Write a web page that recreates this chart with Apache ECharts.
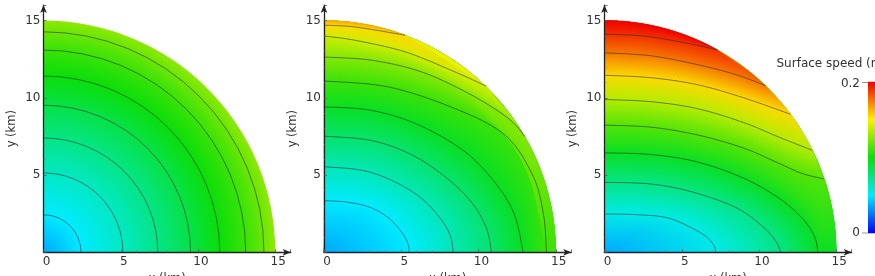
<!DOCTYPE html>
<html><head><meta charset="utf-8">
<script src="https://cdn.jsdelivr.net/npm/echarts@6/dist/echarts.min.js"></script>
<style>html,body{margin:0;padding:0;background:#fff}#c{width:875px;height:276px}</style>
</head><body><div id="c"></div>
<script>
// ---------- data (km, surface speed) ----------
const axisTicks = [0, 5, 10, 15];
const speedMin = 0, speedMax = 0.2;
const colorbarLabels = ['0.2', '0'];
const colorbarTitle = 'Surface speed (m/a)';
const discRadius = 15;

// Panel 1: circular contours (radius in km) and their speed levels
const p1Radii  = [2.43, 5.14, 7.4, 9.52, 11.41, 13.09, 14.27];
const p1Levels = [0.05, 0.0625, 0.075, 0.0875, 0.1, 0.11, 0.12];
const p1Center = 0.036, p1Rim = 0.127;

// Panel 2: contour polylines [x, y] in km, speed levels
const p2Contours = [
  [[0,3.34],[1.5,3.25],[3,2.9],[4.2,2.2],[5.1,1.2],[5.45,0.5],[5.52,0]],
  [[0,5.54],[2.5,5.3],[4.5,4.6],[6.3,3.5],[7.6,2.1],[8.2,1.0],[8.36,0]],
  [[0,7.52],[3,7.25],[5.5,6.4],[7.7,5.0],[9.5,3.3],[10.5,1.6],[10.84,0]],
  [[0,9.41],[3,9.2],[6,8.3],[9,6.6],[11,4.6],[12.3,2.5],[12.89,0]],
  [[0,11.09],[4.18,10.7],[8.49,9.3],[11.72,7.58],[13.5,5],[14.2,2.5],[14.4,0]],
  [[0,12.64],[3.1,12.43],[6.33,11.67],[9.57,10.17],[11.94,8.66],[13.0,7.5]],
  [[0,14.0],[2.02,13.72],[5.26,12.97],[8.49,11.67],[10.5,10.75]],
  [[0,14.7],[2.03,14.58],[5.25,14.05]]
];
const p2Levels = [0.05, 0.065, 0.08, 0.095, 0.11, 0.125, 0.14, 0.155];
const p2Center = 0.036, p2RimTop = 0.165;

// Panel 3: contour polylines [x, y] in km, speed levels
const p3Contours = [
  [[0,2.48],[2,2.44],[4,2.25],[5.5,1.65],[6.6,1.0],[7.1,0.4],[7.2,0]],
  [[0,4.53],[3,4.42],[5.7,3.9],[8.5,2.9],[10.2,1.7],[11.1,0.7],[11.4,0]],
  [[0,6.44],[3,6.33],[6,5.85],[9,4.8],[11.3,3.5],[12.8,2.2],[13.6,1.0],[13.81,0]],
  [[0,8.23],[3,8.1],[6,7.6],[9,6.75],[11.3,5.75],[12.8,5.1],[14.2,4.75]],
  [[0,9.89],[3,9.75],[6,9.3],[9,8.4],[11.3,7.45],[13.45,6.6]],
  [[0,11.46],[3,11.3],[6,10.85],[9,10.0],[12.05,8.93]],
  [[0,12.91],[3,12.72],[6,12.15],[8.5,11.5],[10.42,10.79]],
  [[0,14.12],[2.5,14.0],[5,13.6],[7.3,13.1]]
];
const p3Levels = [0.055, 0.075, 0.095, 0.115, 0.135, 0.155, 0.175, 0.19];
const p3Center = 0.036, p3RimTop = 0.2;

// ---------- rendering ----------
const FONT = 'DejaVu Sans';
const FS = 12;
const TXT = '#333';
const gridLefts = [43.5, 324, 604.5];
const PXKM = 15.45, AXMAX = 16, AXIS_Y = 252.3;
const gridSize = AXMAX * PXKM;
const gridTop = AXIS_Y - gridSize;

const cstops = [[0,[0,0,255]],[0.25,[0,235,255]],[0.5,[10,222,10]],[0.75,[252,242,0]],[1,[240,0,0]]];
function cmap(v){
  let f = (v - speedMin) / (speedMax - speedMin);
  f = Math.max(0, Math.min(1, f));
  for (let i = 0; i < cstops.length - 1; i++) {
    const a = cstops[i], b = cstops[i+1];
    if (f <= b[0]) {
      const t = (f - a[0]) / (b[0] - a[0]);
      const c = a[1].map((x, j) => Math.round(x + (b[1][j] - x) * t));
      return 'rgb(' + c.join(',') + ')';
    }
  }
  return 'rgb(240,0,0)';
}

function spline(pts, n){
  if (pts.length < 3) return pts.slice();
  const out = [];
  for (let i = 0; i < pts.length - 1; i++) {
    const p0 = pts[Math.max(i-1,0)], p1 = pts[i], p2 = pts[i+1], p3 = pts[Math.min(i+2, pts.length-1)];
    for (let s = 0; s < n; s++) {
      const t = s / n, t2 = t*t, t3 = t2*t;
      const f = k => 0.5*((2*p1[k]) + (-p0[k]+p2[k])*t + (2*p0[k]-5*p1[k]+4*p2[k]-p3[k])*t2 + (-p0[k]+3*p1[k]-3*p2[k]+p3[k])*t3);
      out.push([f(0), f(1)]);
    }
  }
  out.push(pts[pts.length-1]);
  return out;
}

function resample(pts, N){
  const L = [0];
  for (let i = 1; i < pts.length; i++) L.push(L[i-1] + Math.hypot(pts[i][0]-pts[i-1][0], pts[i][1]-pts[i-1][1]));
  const tot = L[L.length-1], out = [];
  let j = 0;
  for (let s = 0; s <= N; s++) {
    const d = tot * s / N;
    while (j < pts.length - 2 && L[j+1] < d) j++;
    const seg = L[j+1] - L[j], t = seg > 0 ? Math.min(1, (d - L[j]) / seg) : 0;
    out.push([pts[j][0] + (pts[j+1][0]-pts[j][0]) * t, pts[j][1] + (pts[j+1][1]-pts[j][1]) * t]);
  }
  return out;
}

const LINE_STYLE = {stroke: 'rgba(40,40,40,0.7)', lineWidth: 0.8, fill: null};

function renderCircular(params, api){
  const o = api.coord([0, 0]);
  const R = api.size([discRadius, 0])[0];
  const stops = [{offset: 0, color: cmap(p1Center)}];
  p1Radii.forEach((r, i) => stops.push({offset: r / discRadius, color: cmap(p1Levels[i])}));
  stops.push({offset: 1, color: cmap(p1Rim)});
  const children = [{
    type: 'sector',
    shape: {cx: o[0], cy: o[1], r0: 0, r: R, startAngle: -Math.PI/2, endAngle: 0, clockwise: true},
    style: {fill: new echarts.graphic.RadialGradient(o[0], o[1], R, stops, true)}
  }];
  p1Radii.forEach(r => {
    children.push({
      type: 'arc',
      shape: {cx: o[0], cy: o[1], r: api.size([r, 0])[0], startAngle: -Math.PI/2, endAngle: 0, clockwise: true},
      style: Object.assign({}, LINE_STYLE)
    });
  });
  return {type: 'group', children};
}

function gradPoly(points, P, Q, ca, cb){
  const g = new echarts.graphic.LinearGradient(P[0], P[1], Q[0], Q[1], [{offset: 0, color: ca}, {offset: 1, color: cb}], true);
  return {type: 'polygon', shape: {points: points}, style: {fill: g, stroke: g, lineWidth: 0.7}};
}
function quad(A0, A1, B1, B0, ca, cb){
  const P = [(A0[0]+A1[0])/2, (A0[1]+A1[1])/2], Q = [(B0[0]+B1[0])/2, (B0[1]+B1[1])/2];
  return gradPoly([A0, A1, B1, B0], P, Q, ca, cb);
}

function makeBandRender(contours, levels, center, rimTop){
  return function(params, api){
    const o = api.coord([0, 0]);
    const R = api.size([discRadius, 0])[0];
    const rimPt = a => [o[0] + R * Math.cos(a), o[1] - R * Math.sin(a)];
    const children = [{
      type: 'sector',
      shape: {cx: o[0], cy: o[1], r0: 0, r: R, startAngle: -Math.PI/2, endAngle: 0, clockwise: true},
      style: {fill: cmap((center + levels[0]) / 2)}
    }];
    const curves = contours.map(c => spline(c.map(p => api.coord(p)), 10));
    const endAngles = contours.map(c => {
      const last = c[c.length - 1];
      return last[1] < 0.01 ? 0 : Math.atan2(last[1], last[0]);
    });
    // underlay: flat regions above each contour (covers slivers at the rim)
    contours.forEach((c, k) => {
      const poly = curves[k].slice();
      const th0 = endAngles[k], steps = 60;
      for (let s = 0; s <= steps; s++) poly.push(rimPt(th0 + (Math.PI/2 - th0) * s / steps));
      const hi = k < levels.length - 1 ? levels[k+1] : rimTop;
      children.push({type: 'polygon', shape: {points: poly}, style: {fill: cmap(levels[k] + (hi - levels[k]) * 0.4)}});
    });
    // smooth shading between successive contours
    const N = 48;
    const rs = curves.map(c => resample(c, N));
    const bands = [];
    bands.push([Array.from({length: N + 1}, () => o), center, rs[0], levels[0]]);
    for (let k = 0; k < rs.length - 1; k++) bands.push([rs[k], levels[k], rs[k+1], levels[k+1]]);
    const thL = endAngles[endAngles.length - 1];
    const rim = [];
    for (let s = 0; s <= N; s++) rim.push(rimPt(Math.PI/2 - (Math.PI/2 - thL) * s / N));
    bands.push([rs[rs.length - 1], levels[levels.length - 1], rim, rimTop]);
    bands.forEach(b => {
      const A = b[0], B = b[2], ca = cmap(b[1]), cb = cmap(b[3]);
      for (let j = 0; j < N; j++) children.push(quad(A[j], A[j+1], B[j+1], B[j], ca, cb));
    });
    // rim sliver between the last contour ending on the x axis and the first one ending on the rim
    for (let k = 0; k < contours.length - 1; k++) {
      if (endAngles[k] === 0 && endAngles[k+1] > 0) {
        const Aend = rs[k][N], Bend = rs[k+1][N];
        const pts = [Aend];
        for (let s = 0; s <= 30; s++) pts.push(rimPt(endAngles[k+1] * s / 30));
        pts.push(Bend);
        children.push(gradPoly(pts, Aend, Bend, cmap(levels[k]), cmap(levels[k+1])));
      }
    }
    curves.forEach(pts => children.push({type: 'polyline', shape: {points: pts}, style: Object.assign({}, LINE_STYLE)}));
    return {type: 'group', children};
  };
}

const txt = {fontFamily: FONT, fontSize: FS, color: TXT};
const nameTxt = {fontFamily: FONT, fontSize: 11.5, color: TXT};
const grids = [], xAxes = [], yAxes = [];
for (let i = 0; i < 3; i++) {
  grids.push({left: gridLefts[i], top: gridTop, width: gridSize, height: gridSize, containLabel: false, outerBoundsMode: 'none'});
  const common = {
    type: 'value', gridIndex: i, min: 0, max: AXMAX, interval: 5, z: 5,
    axisLine: {show: true, onZero: false, symbol: ['none', 'arrow'], symbolSize: [5, 8], lineStyle: {color: '#222', width: 1.3}},
    axisTick: {show: true, inside: true, length: 3, lineStyle: {color: '#555', width: 0.8}},
    minorTick: {show: true, splitNumber: 5, length: 2, lineStyle: {color: '#777', width: 0.6}},
    splitLine: {show: false},
    nameLocation: 'middle',
    nameTextStyle: Object.assign({}, nameTxt)
  };
  xAxes.push(Object.assign({}, common, {
    name: 'x (km)', nameGap: 18,
    axisLabel: Object.assign({margin: 4, padding: [0,0,0,6], showMaxLabel: false,
      formatter: v => axisTicks.indexOf(v) >= 0 ? String(v) : ''}, txt)
  }));
  yAxes.push(Object.assign({}, common, {
    name: 'y (km)', nameGap: 25,
    axisLabel: Object.assign({margin: 3, showMinLabel: false, showMaxLabel: false,
      formatter: v => (v > 0 && axisTicks.indexOf(v) >= 0) ? String(v) : ''}, txt)
  }));
}

const series = [
  {type: 'custom', xAxisIndex: 0, yAxisIndex: 0, data: [[0, 0]], renderItem: renderCircular, clip: false, silent: true, z: 1},
  {type: 'custom', xAxisIndex: 1, yAxisIndex: 1, data: [[0, 0]], renderItem: makeBandRender(p2Contours, p2Levels, p2Center, p2RimTop), clip: false, silent: true, z: 1},
  {type: 'custom', xAxisIndex: 2, yAxisIndex: 2, data: [[0, 0]], renderItem: makeBandRender(p3Contours, p3Levels, p3Center, p3RimTop), clip: false, silent: true, z: 1}
];

const cbX = 868, cbTop = 81.7, cbH = 151.6;
const graphic = [
  {type: 'rect', left: cbX, top: cbTop, shape: {width: 30, height: cbH}, z: 10,
   style: {fill: new echarts.graphic.LinearGradient(0, 0, 0, 1, cstops.slice().reverse().map(s => ({offset: 1 - s[0], color: 'rgb(' + s[1].join(',') + ')'})))}},
  {type: 'text', x: 776.5, y: 64, z: 10, style: {text: colorbarTitle, fontFamily: FONT, fontSize: FS, fill: TXT, verticalAlign: 'middle', align: 'left'}},
  {type: 'text', x: 860, y: 84, z: 10, style: {text: colorbarLabels[0], fontFamily: FONT, fontSize: FS, fill: TXT, verticalAlign: 'middle', align: 'right'}},
  {type: 'text', x: 860, y: 233, z: 10, style: {text: colorbarLabels[1], fontFamily: FONT, fontSize: FS, fill: TXT, verticalAlign: 'middle', align: 'right'}},
  {type: 'line', z: 10, shape: {x1: 862, y1: 233, x2: 868, y2: 233}, style: {stroke: '#999', lineWidth: 1}},
  {type: 'line', z: 10, shape: {x1: 862, y1: 82.5, x2: 868, y2: 82.5}, style: {stroke: '#999', lineWidth: 1}}
];

const chart = echarts.init(document.getElementById('c'));
chart.setOption({
  animation: false,
  backgroundColor: '#fff',
  grid: grids, xAxis: xAxes, yAxis: yAxes,
  series: series,
  graphic: graphic
});
</script></body></html>
